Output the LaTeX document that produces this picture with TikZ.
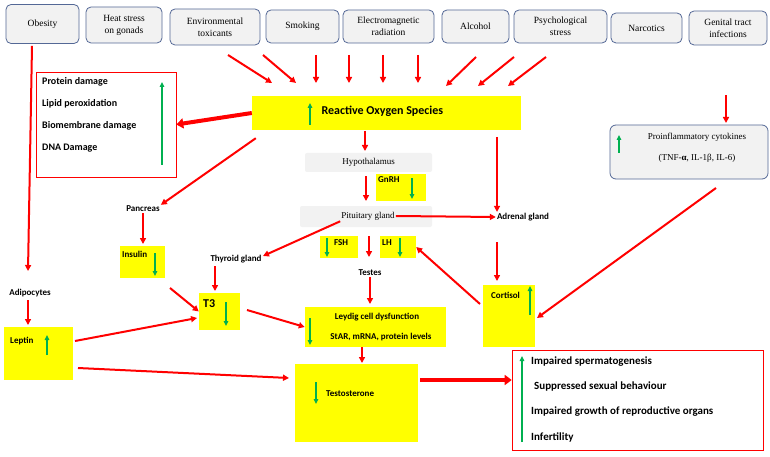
\documentclass[tikz,border=0pt]{standalone}
\usepackage{fontspec}
\setmainfont{Carlito}
\newfontfamily\srf{Liberation Serif}
\usetikzlibrary{arrows.meta,calc}
\definecolor{ylw}{RGB}{255,255,0}
\definecolor{grn}{RGB}{0,176,80}
\definecolor{rd}{RGB}{255,0,0}
\definecolor{bbord}{RGB}{84,104,150}
\definecolor{lgray}{RGB}{242,242,242}
\begin{document}
\begin{tikzpicture}[x=1pt,y=-1pt,
 top/.style={draw=bbord,fill=lgray,rounded corners=5pt,line width=0.8pt,font=\srf\fontsize{9.5}{12}\selectfont,align=center,inner sep=0pt},
 gbox/.style={fill=lgray,rounded corners=2pt,font=\srf\fontsize{9}{10}\selectfont,inner sep=0pt},
 ybox/.style={fill=ylw,inner sep=0pt},
 lbl/.style={font=\bfseries\fontsize{9}{10}\selectfont,inner sep=1pt},
 ra/.style={-{Triangle[length=6pt,width=6pt]},draw=rd,line width=2pt},
 tra/.style={-{Triangle[length=7pt,width=10pt]},draw=rd,line width=4pt},
 ga/.style={-{Triangle[length=5pt,width=4.5pt]},draw=grn,line width=1.6pt}]
\useasboundingbox (0,0) rectangle (770,457);
\fill[white] (0,0) rectangle (770,457);
% top boxes
\node[top,minimum width=73pt,minimum height=39pt] (obe) at (42.5,24) {Obesity};
\node[top,minimum width=76pt,minimum height=36pt] (heat) at (124,25) {Heat stress\\on gonads};
\node[top,minimum width=90pt,minimum height=36pt] (env) at (215,27) {Environmental\\toxicants};
\node[top,minimum width=73pt,minimum height=33pt] (smo) at (302.5,26.5) {Smoking};
\node[top,minimum width=91pt,minimum height=33pt] (ele) at (388.5,26.5) {Electromagnetic\\radiation};
\node[top,minimum width=67pt,minimum height=33pt] (alc) at (475.5,26.5) {Alcohol};
\node[top,minimum width=93pt,minimum height=33pt] (psy) at (560.5,26.5) {Psychological\\stress};
\node[top,minimum width=71pt,minimum height=30pt] (nar) at (646.5,28) {Narcotics};
\node[top,minimum width=78pt,minimum height=34pt] (gen) at (728,28) {Genital tract\\infections};
% ROS
\node[ybox,minimum width=269pt,minimum height=34pt] (ros) at (386.5,113) {};
\node[font=\bfseries\fontsize{12}{14}\selectfont,anchor=west] (rost) at (318,111) {Reactive Oxygen Species};
\draw[ga] (310,125) -- (310,103);
% arrows into ROS
\foreach \a/\b/\c/\d in {228/55/272/83, 263/55/296/83, 316/55/316/83, 349/55/349/83, 383/55/383/83, 418/55/418/83, 476/57/446/86, 514/57/478/86, 546/57/508/86}
  \draw[ra] (\a,\b) -- (\c,\d);
% damage box
\node[draw=rd,fill=white,line width=0.6pt,minimum width=140pt,minimum height=105pt,inner sep=0pt] (dmg) at (106,124.5) {};
\foreach \t/\y in {Protein damage/82, Lipid peroxidation/104, Biomembrane damage/126, DNA Damage/148}
  \node[font=\bfseries\fontsize{10}{12}\selectfont,inner sep=1pt,anchor=west] at (41,\y) {\t};
\draw[ga] (162,165) -- (162,82);
\draw[tra] (ros.west) -- (dmg.east);
% hypothalamus
\node[gbox,minimum width=127pt,minimum height=19pt] (hyp) at (368.5,162.5) {Hypothalamus};
\node[ybox,minimum width=50pt,minimum height=27pt] (gnrh) at (401,187.5) {};
\node[lbl,anchor=north west] at (377,175) {GnRH};
\draw[ga] (412,178) -- (412,199);
\draw[ra] (365,131) -- (365,151);
\draw[ra] (366,176) -- (366,201);
% pituitary
\node[gbox,minimum width=132pt,minimum height=21pt] (pit) at (366,216.5) {};
\node[font=\srf\fontsize{9}{10}\selectfont,inner sep=1pt] (pitt) at (368,216) {Pituitary gland};
\node[lbl] (adr) at (523,217) {Adrenal gland};
\draw[ra] (497,137) -- (adr.north -| 497,0);
\draw[ra] (pitt.east) -- (adr.west);
\node[lbl] (thy) at (236,259) {Thyroid gland};
\draw[ra] (pitt.south west) -- (263,256);
% pancreas, insulin
\node[lbl] (pan) at (143,209) {Pancreas};
\draw[ra] (ros.south west) ++(4,8) -- (pan.north east);
\node[ybox,minimum width=45pt,minimum height=32pt] (ins) at (142.5,262) {};
\node[lbl,anchor=north west] at (121,250) {Insulin};
\draw[ga] (155,253) -- (155,276);
\draw[ra] (pan.south) -- (143,244);
% T3
\node[ybox,minimum width=41pt,minimum height=37pt] (t3) at (219.5,311.5) {};
\node[font=\bfseries\fontsize{12}{14}\selectfont,anchor=north west,inner sep=1pt] at (202,298) {T3};
\draw[ga] (226,302) -- (226,326);
\draw[ra] (thy.south -| 215,0) ++(0,2) -- (215,291);
\draw[ra] (170,288) -- (t3.west);
% FSH LH
\node[ybox,minimum width=38pt,minimum height=22pt] (fsh) at (339,247) {};
\node[lbl,anchor=north west] at (333,238) {FSH};
\draw[ga] (327,238) -- (327,257);
\node[ybox,minimum width=36pt,minimum height=22pt] (lh) at (398,247) {};
\node[lbl,anchor=north west] at (381,238) {LH};
\draw[ga] (400,238) -- (400,257);
\node[lbl] (tes) at (370,273) {Testes};
\draw[ra] (369,236) -- (369,257);
% Leydig
\node[ybox,minimum width=141pt,minimum height=40pt] (ley) at (375.5,327) {};
\node[lbl] at (377,317) {Leydig cell dysfunction};
\node[lbl] at (381,337) {StAR, mRNA, protein levels};
\draw[ga] (310,318) -- (310,345);
\draw[ra] (tes.south) -- (370,304);
% Cortisol
\node[ybox,minimum width=52pt,minimum height=62pt] (cor) at (509,316) {};
\node[lbl,anchor=north west] at (490,291) {Cortisol};
\draw[ga] (530,315) -- (530,286);
\draw[ra] (adr.south -| 497,0) ++(0,20) -- (497,281);
\draw[ra] (480,304) -- (lh.east);
% cytokines
\node[draw=bbord,fill=lgray,rounded corners=6pt,line width=0.8pt,minimum width=158pt,minimum height=54pt] (cyt) at (689,152) {};
\node[font=\srf\fontsize{9}{10}\selectfont] at (697,137) {Proinflammatory cytokines};
\node[font=\srf\fontsize{9}{10}\selectfont] at (697,158) {(TNF-\textbf{α}, IL-1β, IL-6)};
\draw[ga] (619,153) -- (619,135);
\draw[ra] (gen.south -| 726,0) ++(0,50) -- (726,123);
\draw[ra] (716,188) -- (537,318);
% obesity, adipocytes, leptin
\node[lbl] (adi) at (30,293) {Adipocytes};
\draw[ra] (obe.south -| 32,0) ++(0,2) -- (28,271);
\draw[ra] (adi.south -| 28,0) ++(0,2) -- (28,325);
\node[ybox,minimum width=69pt,minimum height=53pt] (lep) at (38.5,353.5) {};
\node[lbl,anchor=west] at (9,341) {Leptin};
\draw[ga] (47,355) -- (47,335);
\draw[ra] (75,341) -- (197,318);
\draw[ra] (247,310) -- (ley.west);
% Testosterone
\node[ybox,minimum width=123pt,minimum height=78pt] (tst) at (356.5,403) {};
\node[lbl,anchor=west] at (325,394) {Testosterone};
\draw[ga] (316,382) -- (316,404);
\draw[ra] (78,368) -- (289,378);
\draw[ra] (362,347) -- (362,363);
% outcomes
\node[draw=rd,fill=white,line width=0.6pt,minimum width=251pt,minimum height=100pt,inner sep=0pt] (out) at (637.5,400) {};
\foreach \t/\x/\y in {Impaired spermatogenesis/530/362, Suppressed sexual behaviour/533/387, Impaired growth of reproductive organs/530/412, Infertility/530/437}
  \node[font=\bfseries\fontsize{11}{13}\selectfont,anchor=west,inner sep=1pt] at (\x,\y) {\t};
\draw[ga] (522,442) -- (522,356);
\draw[tra] (tst.east |- 0,380) ++(2,0) -- (out.west |- 0,380);
\end{tikzpicture}
\end{document}
